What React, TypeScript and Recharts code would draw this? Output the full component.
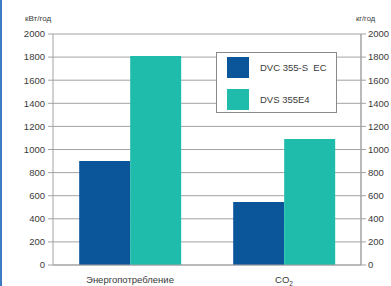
import React from 'react';
import { ComposedChart, Bar, Line, XAxis, YAxis, CartesianGrid, Legend, ReferenceLine } from 'recharts';

const categories = ['Энергопотребление', 'CO2'];
const seriesNames = ['DVC 355-S  EC', 'DVS 355E4'];
const dvc355sEC = [900, 545];
const dvs355E4 = [1810, 1090];
const yTicks = [0, 200, 400, 600, 800, 1000, 1200, 1400, 1600, 1800, 2000];
const minorTicks = Array.from({ length: 51 }, (_, i) => i * 40);
const colors = ['#0b559b', '#1fbcab'];

const data = categories.map((c, i) => ({ name: c, dvc: dvc355sEC[i], dvs: dvs355E4[i] }));

const FONT = '"Liberation Sans", Arial, sans-serif';
const TXT = '#3a3a3a';
const GRID = '#a3a3a3';

const CatTick = (props: any) => {
  const { x, y, payload } = props;
  const v: string = payload.value;
  if (v === 'CO2') {
    return (
      <text x={x} y={y + 10} textAnchor="middle" fill={TXT} fontSize={9.5} fontFamily={FONT}>
        <tspan>CO</tspan>
        <tspan fontSize={6.5} dy={3}>2</tspan>
      </text>
    );
  }
  return (
    <text x={x} y={y + 10} textAnchor="middle" fill={TXT} fontSize={9.5} fontFamily={FONT}>
      {v}
    </text>
  );
};

const LegendBox = () => (
  <div
    style={{
      width: 121,
      height: 61,
      border: '1px solid #8a8a8a',
      background: '#fff',
      boxSizing: 'border-box',
      position: 'relative',
      fontFamily: FONT,
      fontSize: 9.5,
      color: TXT,
    }}
  >
    {seriesNames.map((n, i) => (
      <div key={n} style={{ position: 'absolute', left: 10, top: 4 + i * 32, height: 21, display: 'flex', alignItems: 'center' }}>
        <div style={{ width: 22, height: 21, background: colors[i] }} />
        <span style={{ marginLeft: 11, whiteSpace: 'pre' }}>{n}</span>
      </div>
    ))}
  </div>
);

const ghost = (id: string) => (
  <Line
    key={id}
    xAxisId="cat"
    yAxisId={id}
    dataKey="dvc"
    stroke="none"
    dot={false}
    activeDot={false}
    legendType="none"
    isAnimationActive={false}
  />
);

export default function App() {
  return (
    <div style={{ position: 'absolute', left: 0, top: 0, width: 391, height: 286, background: '#fff', fontFamily: FONT }}>
      <ComposedChart
        width={391}
        height={286}
        data={data}
        margin={{ top: 34, right: 5, bottom: 0, left: 8 }}
        barCategoryGap="17%"
        barGap={0}
      >
        <XAxis
          xAxisId="num"
          type="number"
          domain={[0, 2]}
          ticks={[0, 1, 2]}
          tick={false}
          tickSize={6}
          axisLine={false}
          height={0}
          tickLine={{ stroke: GRID }}
        />
        <XAxis
          xAxisId="cat"
          dataKey="name"
          height={21}
          tickLine={false}
          axisLine={{ stroke: GRID }}
          tick={<CatTick />}
          interval={0}
        />
        <YAxis
          yAxisId="minorL"
          orientation="left"
          width={0}
          domain={[0, 2000]}
          ticks={minorTicks}
          tick={false}
          tickSize={2}
          axisLine={false}
          tickLine={{ stroke: '#c4c4c4' }}
        />
        <YAxis
          yAxisId="left"
          orientation="left"
          width={45}
          domain={[0, 2000]}
          ticks={yTicks}
          tickSize={5}
          tickMargin={3}
          axisLine={{ stroke: GRID }}
          tickLine={{ stroke: GRID }}
          tick={{ fill: TXT, fontSize: 9.5, fontFamily: FONT }}
        />
        <YAxis
          yAxisId="minorR"
          orientation="right"
          width={0}
          domain={[0, 2000]}
          ticks={minorTicks}
          tick={false}
          tickSize={2}
          axisLine={false}
          tickLine={{ stroke: '#c4c4c4' }}
        />
        <YAxis
          yAxisId="right"
          orientation="right"
          width={25}
          domain={[0, 2000]}
          ticks={yTicks}
          tickSize={5}
          tickMargin={2}
          axisLine={{ stroke: GRID }}
          tickLine={{ stroke: GRID }}
          tick={{ fill: TXT, fontSize: 9.5, fontFamily: FONT }}
        />
        <CartesianGrid xAxisId="cat" yAxisId="left" vertical={false} stroke={GRID} />
        <ReferenceLine xAxisId="num" yAxisId="left" x={1} stroke={GRID} />
        <Bar xAxisId="cat" yAxisId="left" dataKey="dvc" name={seriesNames[0]} fill={colors[0]} isAnimationActive={false} />
        <Bar xAxisId="cat" yAxisId="left" dataKey="dvs" name={seriesNames[1]} fill={colors[1]} isAnimationActive={false} />
        {ghost('right')}
        {ghost('minorR')}
        {ghost('minorL')}
        <Legend
          layout="vertical"
          align="center"
          verticalAlign="middle"
          content={<LegendBox />}
          wrapperStyle={{ position: 'absolute', left: 216, top: 52, width: 121, bottom: 'auto', right: 'auto' }}
        />
      </ComposedChart>
      <div style={{ position: 'absolute', left: 25, top: 14, fontSize: 8, color: TXT, fontFamily: FONT }}>кВт/год</div>
      <div style={{ position: 'absolute', left: 356, top: 14, fontSize: 7.5, color: TXT, fontFamily: FONT }}>кг/год</div>
      <div style={{ position: 'absolute', left: 0, top: 0, width: 2, height: 286, background: '#3d7cc4' }} />
    </div>
  );
}
